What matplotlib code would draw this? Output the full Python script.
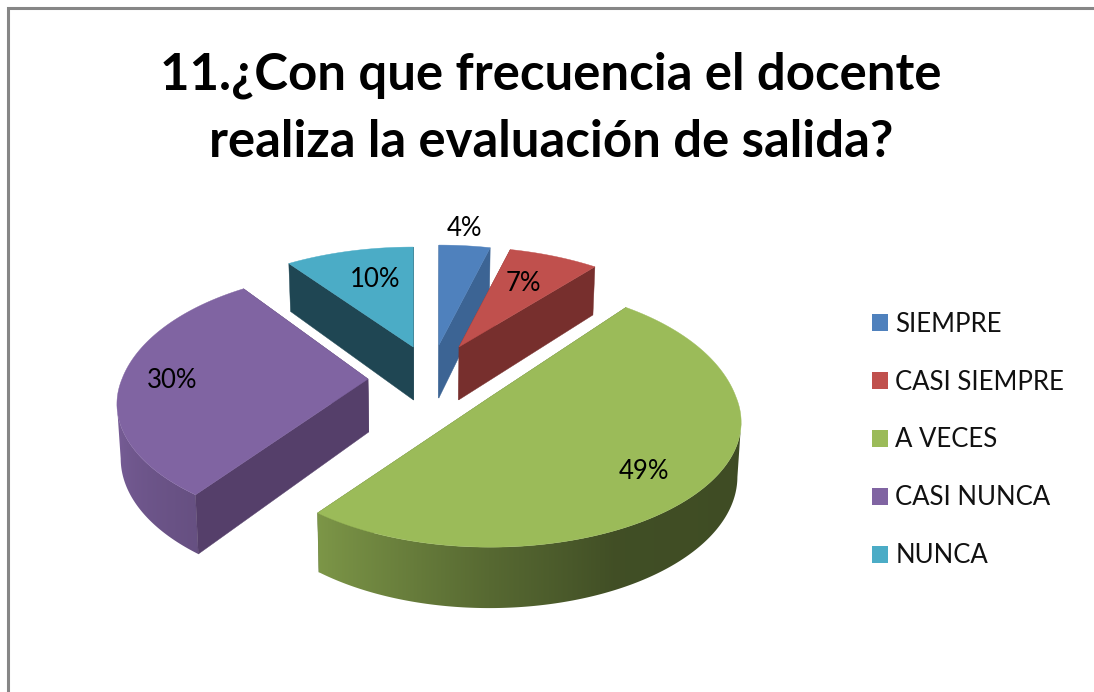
import numpy as np
import matplotlib
matplotlib.use("Agg")
import matplotlib.pyplot as plt
from matplotlib.patches import Polygon, Patch

# ---- data ----
categories = ["SIEMPRE", "CASI SIEMPRE", "A VECES", "CASI NUNCA", "NUNCA"]
values = [4, 7, 49, 30, 10]
title = "11.¿Con que frecuencia el docente\nrealiza la evaluación de salida?"

# ---- style ----
colors = ["#4F81BD", "#C0504D", "#9BBB59", "#8064A2", "#4BACC6"]
cut_colors = ["#3C6494", "#772F2D", "#5F7536", "#553F6A", "#1F4653"]
explode_x = [0.29, 0.26, 0.309, 0.252, 0.22]
explode_y = [0.285, 0.30, 0.247, 0.0, 0.28]
stretch_up = [1.0, 1.0, 1.12, 1.08, 1.0]
label_offsets = [(26, -117), (64, -63), (154, 74), (-196, 2), (-38, -68)]
CX, CY = 430, 379          # pie centre on the page
A, B = 246, 120            # ellipse half axes
K = 0.2                    # perspective of the top face
DEPTH, KD = 53, 0.13       # extrusion
SHRINK = 0.988             # the lower rim is slightly narrower
shade_t = [90, 155, 180, 200, 216, 250, 275]
shade_v = [.40, .42, .56, .70, .80, .90, .95]

fig = plt.figure(figsize=(10.94, 6.92), dpi=100, facecolor="white")
ax = fig.add_axes([0, 0, 1, 1])
ax.plot([8, 8, 1094], [692, 8, 8], color="#868686", lw=2.2, solid_joinstyle="miter", zorder=1)


def top_point(t, ox, oy, up):
    u, v = np.sin(t), np.cos(t)
    w = 1 / (1 + K * v)
    return np.column_stack([ox + A * u * w, oy - B * v * w * np.where(v > 0, up, 1.0)])


def lower(pts, t):
    out = pts.copy()
    out[:, 0] = CX + (pts[:, 0] - CX) * SHRINK
    out[:, 1] = pts[:, 1] + DEPTH / (1 + KD * np.cos(t))
    return out


shares = np.array(values, float) / sum(values)
edges = np.concatenate([[0], np.cumsum(shares)]) * 2 * np.pi
slices = []
for i, val in enumerate(values):
    t0, t1 = edges[i], edges[i + 1]
    mid = (t0 + t1) / 2
    ox = CX + A * explode_x[i] * np.sin(mid)
    oy = CY - B * explode_y[i] * np.cos(mid)
    slices.append((oy, i, t0, t1, ox))
slices.sort(key=lambda s: s[0])

z = 2
for oy, i, t0, t1, ox in slices:
    ts = np.linspace(t0, t1, max(int(np.degrees(t1 - t0)) * 2, 12) + 1)
    arc = top_point(ts, ox, oy, stretch_up[i])
    apex = np.array([[ox, oy]])
    top = np.vstack([apex, arc])
    c = top.mean(axis=0)

    # cut faces, split by whether they face the viewer
    faces = []
    for end, tt in ((arc[0], t0), (arc[-1], t1)):
        ed = end - apex[0]
        s1 = ed[0] * (c[1] - oy) - ed[1] * (c[0] - ox)
        visible = s1 * ed[0] < 0
        a_low = np.array([CX + (ox - CX) * SHRINK, oy + DEPTH])
        e_low = lower(end[None, :], np.array([tt]))[0]
        faces.append((visible, [apex[0], end, e_low, a_low]))
    for vis, poly in faces:
        if not vis:
            ax.add_patch(Polygon(poly, closed=True, fc=cut_colors[i], ec=cut_colors[i], lw=.3, zorder=z))
    z += 1

    # outer wall: a smooth horizontal gradient clipped to the wall's outline
    mask = np.cos(ts) < -K
    if mask.sum() > 2:
        wt = ts[mask]
        warc = arc[mask]
        wlow = lower(warc, wt)
        outline = np.vstack([warc, wlow[::-1]])
        x0, x1 = outline[:, 0].min() - 1, outline[:, 0].max() + 1
        y0, y1 = outline[:, 1].min() - 1, outline[:, 1].max() + 1
        xs = np.linspace(x0, x1, 400)
        order = np.argsort(wlow[:, 0])
        deg = np.interp(xs, wlow[order, 0], np.degrees(wt[order]))
        rgb = np.array(matplotlib.colors.to_rgb(colors[i]))
        grad = (rgb[None, :] * np.interp(deg, shade_t, shade_v)[:, None])[None, :, :]
        im = ax.imshow(grad, extent=(x0, x1, y1, y0), aspect="auto", interpolation="bilinear", zorder=z)
        clip = Polygon(outline, closed=True, transform=ax.transData)
        im.set_clip_path(clip)
    z += 1

    for vis, poly in faces:
        if vis:
            ax.add_patch(Polygon(poly, closed=True, fc=cut_colors[i], ec=cut_colors[i], lw=.3, zorder=z))
    z += 1

    ax.add_patch(Polygon(top, closed=True, fc=colors[i], ec=colors[i], lw=.3, zorder=z))
    z += 1

    dx, dy = label_offsets[i]
    ax.text(ox + dx, oy + dy, f"{values[i]}%", ha="center", va="center", family="Lato",
            fontsize=18.5, color="black", zorder=100)

ax.set_xlim(0, 1094)
ax.set_ylim(692, 0)
ax.axis("off")

ax.text(551, 108.5, title, ha="center", va="center", family="Lato", fontweight="bold",
        fontsize=36.6, linespacing=1.53, color="black", zorder=100)

handles = [Patch(fc=c, ec="none") for c in colors]
ax.legend(handles, categories, loc="upper left", bbox_to_anchor=(864 / 1094, 1 - 304 / 692),
          frameon=False, prop={"family": "Lato", "size": 18.5}, labelcolor="#111111",
          handlelength=0.62, handleheight=0.62, handletextpad=0.30, labelspacing=1.28,
          borderpad=0.3, borderaxespad=0)

fig.savefig("out.png", dpi=100, facecolor="white")
